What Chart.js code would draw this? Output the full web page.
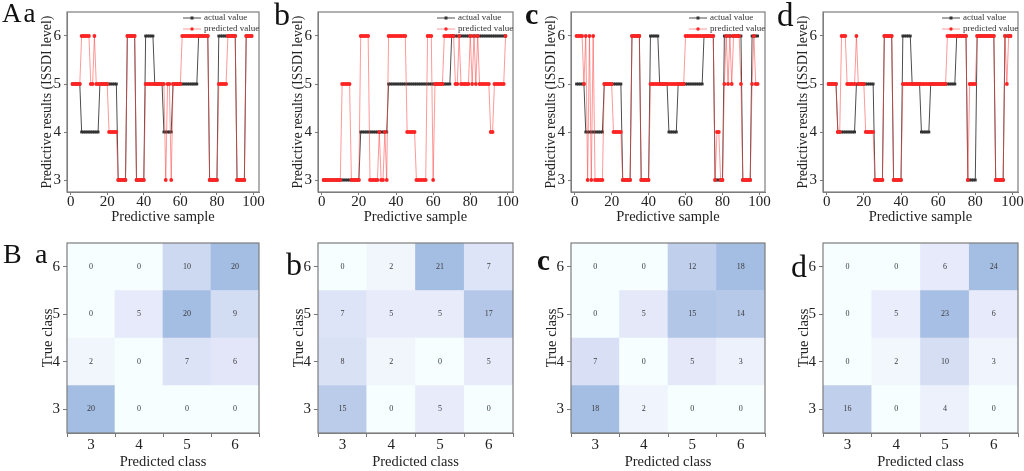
<!DOCTYPE html>
<html>
<head>
<meta charset="utf-8">
<script src="https://cdn.jsdelivr.net/npm/chart.js@4.4.1/dist/chart.umd.min.js"></script>
<style>
  body { margin: 0; background: #fff; }
  #fig { position: relative; width: 1024px; height: 471px; overflow: hidden; background: #fff; }
  #fig canvas { position: absolute; }
  .tag { position: absolute; font-family: "Liberation Serif", "Times New Roman", serif; color: #111; line-height: 1; white-space: nowrap; }
</style>
</head>
<body>
<div id="fig"></div>
<script>
const sampleTicks = [0, 20, 40, 60, 80, 100];
const levelTicks = [3, 4, 5, 6];
const classLabels = ["3", "4", "5", "6"];

// actual ISSDI level per sample (panels a, c, d share the same test set)
const actualACD = [
  5, 5, 5, 5, 5, 4, 4, 4, 4, 4,
  4, 4, 4, 4, 4, 5, 5, 5, 5, 5,
  5, 5, 5, 5, 5, 3, 3, 3, 3, 3,
  6, 6, 6, 6, 6, 3, 3, 3, 3, 3,
  6, 6, 6, 6, 6, 5, 5, 5, 5, 5,
  4, 4, 4, 4, 4, 5, 5, 5, 5, 5,
  5, 5, 5, 5, 5, 5, 5, 5, 5, 6,
  6, 6, 6, 6, 6, 3, 3, 3, 3, 3,
  6, 6, 6, 6, 6, 6, 6, 6, 6, 6,
  3, 3, 3, 3, 3, 6, 6, 6, 6
];
const actualB = [
  3, 3, 3, 3, 3, 3, 3, 3, 3, 3,
  3, 3, 3, 3, 3, 3, 3, 3, 3, 3,
  4, 4, 4, 4, 4, 4, 4, 4, 4, 4,
  4, 4, 4, 4, 4, 5, 5, 5, 5, 5,
  5, 5, 5, 5, 5, 5, 5, 5, 5, 5,
  5, 5, 5, 5, 5, 5, 5, 5, 5, 5,
  5, 5, 5, 5, 5, 5, 5, 5, 5, 6,
  6, 6, 6, 6, 6, 6, 6, 6, 6, 6,
  6, 6, 6, 6, 6, 6, 6, 6, 6, 6,
  6, 6, 6, 6, 6, 6, 6, 6, 6
];
const predA = [
  5, 5, 5, 5, 5, 6, 6, 6, 6, 6,
  5, 5, 6, 5, 5, 5, 5, 5, 5, 5,
  4, 4, 4, 4, 4, 3, 3, 3, 3, 3,
  6, 6, 6, 6, 6, 3, 3, 3, 3, 3,
  5, 5, 5, 5, 5, 5, 5, 5, 5, 5,
  5, 3, 5, 5, 3, 5, 5, 5, 5, 5,
  6, 6, 6, 6, 6, 6, 6, 6, 6, 6,
  6, 6, 6, 6, 6, 3, 3, 3, 3, 3,
  5, 5, 5, 5, 5, 6, 6, 6, 6, 6,
  3, 3, 3, 3, 3, 6, 6, 6, 6
];
const predB = [
  3, 3, 3, 3, 3, 3, 3, 3, 3, 3,
  5, 5, 5, 5, 5, 3, 3, 3, 3, 3,
  6, 6, 6, 6, 6, 3, 3, 3, 3, 3,
  4, 3, 3, 4, 3, 6, 6, 6, 6, 6,
  6, 6, 6, 6, 6, 4, 4, 4, 4, 4,
  3, 3, 3, 3, 3, 3, 6, 6, 6, 3,
  5, 5, 5, 5, 5, 6, 6, 6, 6, 6,
  6, 5, 5, 6, 5, 5, 5, 5, 5, 6,
  5, 6, 5, 6, 5, 5, 5, 5, 5, 5,
  4, 4, 5, 5, 5, 5, 5, 5, 6
];
const predC = [
  6, 6, 6, 6, 5, 6, 3, 6, 3, 6,
  3, 3, 3, 3, 3, 5, 5, 5, 5, 5,
  4, 4, 4, 4, 4, 3, 3, 3, 3, 3,
  6, 6, 6, 6, 6, 3, 3, 3, 3, 3,
  5, 5, 5, 5, 5, 5, 5, 5, 5, 5,
  5, 5, 5, 5, 5, 5, 5, 5, 5, 6,
  6, 6, 6, 6, 6, 6, 6, 6, 6, 6,
  6, 6, 6, 6, 6, 3, 4, 4, 3, 3,
  5, 6, 5, 6, 5, 6, 6, 6, 6, 5,
  3, 3, 3, 3, 3, 5, 6, 5, 5
];
const predD = [
  5, 5, 5, 5, 5, 4, 4, 6, 6, 6,
  5, 5, 5, 5, 5, 6, 5, 5, 5, 5,
  4, 4, 4, 4, 4, 3, 3, 3, 3, 3,
  6, 6, 6, 6, 6, 3, 3, 3, 3, 3,
  5, 5, 5, 5, 5, 5, 5, 5, 5, 5,
  5, 5, 5, 5, 5, 5, 5, 5, 5, 5,
  5, 5, 5, 5, 6, 6, 6, 6, 6, 6,
  6, 6, 6, 6, 6, 3, 5, 5, 5, 5,
  6, 6, 6, 6, 6, 6, 6, 6, 6, 6,
  3, 3, 3, 3, 3, 6, 5, 6, 6
];

// confusion matrices: rows = true class 3..6, cols = predicted class 3..6
const cmA = [[20, 0, 0, 0], [2, 0, 7, 6], [0, 5, 20, 9], [0, 0, 10, 20]];
const cmB = [[15, 0, 5, 0], [8, 2, 0, 5], [7, 5, 5, 17], [0, 2, 21, 7]];
const cmC = [[18, 2, 0, 0], [7, 0, 5, 3], [0, 5, 15, 14], [0, 0, 12, 18]];
const cmD = [[16, 0, 4, 0], [0, 2, 10, 3], [0, 5, 23, 6], [0, 0, 6, 24]];

const panels = [
  { actual: actualACD, pred: predA, cm: cmA },
  { actual: actualB, pred: predB, cm: cmB },
  { actual: actualACD, pred: predC, cm: cmC },
  { actual: actualACD, pred: predD, cm: cmD }
];

const plotLeft = [67, 318, 571, 823];
const plotRight = [259, 513, 765, 1018];
const serif = "'Liberation Serif', 'Times New Roman', serif";
const fig = document.getElementById("fig");

Chart.defaults.font.family = serif;
Chart.defaults.color = "#222";

const boxPlugin = {
  id: "box",
  afterDraw(chart) {
    const a = chart.chartArea, ctx = chart.ctx;
    ctx.save();
    ctx.strokeStyle = "#7d7d7d";
    ctx.lineWidth = 1.2;
    ctx.strokeRect(a.left, a.top, a.right - a.left, a.bottom - a.top);
    ctx.restore();
  }
};

// origin-style legend in the top right corner of the plot
const lineLegend = {
  id: "lineLegend",
  afterDraw(chart) {
    const a = chart.chartArea, ctx = chart.ctx;
    const x0 = a.right - 76;
    ctx.save();
    ctx.font = "9px " + serif;
    ctx.textBaseline = "middle";
    chart.data.datasets.forEach((ds, i) => {
      const y = a.top + 6 + i * 11;
      ctx.strokeStyle = ds.borderColor;
      ctx.lineWidth = 1;
      ctx.beginPath();
      ctx.moveTo(x0, y);
      ctx.lineTo(x0 + 18, y);
      ctx.stroke();
      ctx.fillStyle = ds.pointBackgroundColor;
      if (ds.pointStyle === "rect") ctx.fillRect(x0 + 7.5, y - 1.5, 3, 3);
      else { ctx.beginPath(); ctx.arc(x0 + 9, y, 1.7, 0, Math.PI * 2); ctx.fill(); }
      ctx.fillStyle = "#333";
      ctx.fillText(ds.label, x0 + 21, y);
    });
    ctx.restore();
  }
};

const cellText = {
  id: "cellText",
  afterDatasetsDraw(chart) {
    const ctx = chart.ctx;
    ctx.save();
    ctx.font = "8px " + serif;
    ctx.fillStyle = "#3a3a3a";
    ctx.textAlign = "center";
    ctx.textBaseline = "middle";
    chart.data.datasets.forEach((ds, r) => {
      chart.getDatasetMeta(r).data.forEach((bar, c) => {
        ctx.fillText(String(ds.values[c]), bar.x, (bar.y + bar.base) / 2);
      });
    });
    ctx.restore();
  }
};

function mix(c1, c2, t) {
  return c1.map((v, k) => Math.round(v + (c2[k] - v) * t));
}
const stops = [
  [0, [247, 254, 255]],
  [0.25, [231, 234, 250]],
  [0.5, [205, 216, 241]],
  [1, [164, 189, 227]]
];
function cellColor(v, max) {
  const t = v / max;
  for (let k = 1; k < stops.length; k++) {
    if (t <= stops[k][0]) {
      const s0 = stops[k - 1], s1 = stops[k];
      const c = mix(s0[1], s1[1], (t - s0[0]) / (s1[0] - s0[0]));
      return `rgb(${c[0]},${c[1]},${c[2]})`;
    }
  }
  return "rgb(164,189,227)";
}

function makeCanvas(left, top, w, h) {
  const cv = document.createElement("canvas");
  cv.width = w; cv.height = h;
  cv.style.left = left + "px"; cv.style.top = top + "px";
  cv.style.width = w + "px"; cv.style.height = h + "px";
  fig.appendChild(cv);
  return cv;
}

const tickFont = { size: 15, family: serif };
const titleFont = { size: 14.5, family: serif };
const yTitleFont = { size: 13.8, family: serif };

function lineChart(i) {
  const p = panels[i];
  const w = plotRight[i] - plotLeft[i] + 70;
  const cv = makeCanvas(plotLeft[i] - 60, 0, w, 230);
  new Chart(cv, {
    type: "line",
    data: {
      datasets: [
        {
          label: "actual value",
          data: p.actual.map((v, k) => ({ x: k + 1, y: v })),
          borderColor: "#4d4d4d",
          borderWidth: 1,
          pointStyle: "rect",
          pointRadius: 2,
          pointBackgroundColor: "#333",
          pointBorderWidth: 0,
          order: 2
        },
        {
          label: "predicted value",
          data: p.pred.map((v, k) => ({ x: k + 1, y: v })),
          borderColor: "rgba(255,70,70,0.55)",
          borderWidth: 1,
          pointStyle: "circle",
          pointRadius: 1.9,
          pointBackgroundColor: "#ff2424",
          pointBorderWidth: 0,
          order: 1
        }
      ]
    },
    options: {
      responsive: false,
      animation: false,
      layout: { padding: { left: 28, top: 2, right: 10, bottom: 0 } },
      plugins: { legend: { display: false }, tooltip: { enabled: false } },
      scales: {
        x: {
          type: "linear",
          min: -2,
          max: 103,
          afterBuildTicks: (s) => { s.ticks = sampleTicks.map((v) => ({ value: v })); },
          afterFit: (s) => { s.height = 38; },
          grid: { drawOnChartArea: false, tickLength: 3, color: "#777" },
          border: { color: "#7d7d7d" },
          ticks: { font: tickFont, color: "#222", padding: -2, maxRotation: 0 },
          title: { display: true, text: "Predictive sample", font: titleFont, color: "#222" }
        },
        y: {
          min: 2.75,
          max: 6.5,
          afterBuildTicks: (s) => { s.ticks = levelTicks.map((v) => ({ value: v })); },
          afterFit: (s) => { s.width = 32; },
          grid: { drawOnChartArea: false, tickLength: 3, color: "#777" },
          border: { color: "#7d7d7d" },
          ticks: { font: tickFont, color: "#222", padding: 3 },
          title: { display: true, text: "Predictive results (ISSDI level)", font: yTitleFont, color: "#222" }
        }
      }
    },
    plugins: [boxPlugin, lineLegend]
  });
}

function matrixChart(i) {
  const p = panels[i];
  const max = Math.max(...p.cm.flat());
  const w = plotRight[i] - plotLeft[i] + 70;
  const cv = makeCanvas(plotLeft[i] - 60, 230, w, 241);
  new Chart(cv, {
    type: "bar",
    data: {
      labels: classLabels,
      datasets: levelTicks.map((t, r) => ({
        data: classLabels.map(() => [t - 0.5, t + 0.5]),
        values: p.cm[r],
        backgroundColor: p.cm[r].map((v) => cellColor(v, max)),
        borderWidth: 0,
        barPercentage: 1,
        categoryPercentage: 1
      }))
    },
    options: {
      responsive: false,
      animation: false,
      layout: { padding: { left: 28, top: 13, right: 10, bottom: 0 } },
      plugins: { legend: { display: false }, tooltip: { enabled: false } },
      scales: {
        x: {
          stacked: true,
          afterFit: (s) => { s.height = 38; },
          grid: { drawOnChartArea: false, tickLength: 4, color: "#777" },
          border: { color: "#7d7d7d" },
          ticks: { font: tickFont, color: "#222", padding: -1 },
          title: { display: true, text: "Predicted class", font: titleFont, color: "#222", padding: { top: 5, bottom: 0 } }
        },
        y: {
          min: 2.5,
          max: 6.5,
          afterBuildTicks: (s) => { s.ticks = levelTicks.map((v) => ({ value: v })); },
          afterFit: (s) => { s.width = 32; },
          grid: { drawOnChartArea: false, tickLength: 4, color: "#777" },
          border: { color: "#7d7d7d" },
          ticks: { font: tickFont, color: "#222", padding: 3 },
          title: { display: true, text: "True class", font: titleFont, color: "#222" }
        }
      }
    },
    plugins: [boxPlugin, cellText]
  });
}

for (let i = 0; i < panels.length; i++) {
  lineChart(i);
  matrixChart(i);
}

// panel letters
const tags = [
  ["Aa", 2, 0, 27, false],
  ["b", 274, -2, 32, false],
  ["c", 525, -1, 30, true],
  ["d", 777, -1, 33, false],
  ["B", 3, 240, 28, false],
  ["a", 35, 240, 28, false],
  ["b", 286, 248, 32, false],
  ["c", 537, 246, 29, true],
  ["d", 791, 250, 32, false]
];
tags.forEach(([txt, x, y, fs, bold]) => {
  const d = document.createElement("div");
  d.className = "tag";
  d.textContent = txt;
  d.style.left = x + "px";
  d.style.top = y + "px";
  d.style.fontSize = fs + "px";
  if (bold) d.style.fontWeight = "bold";
  if (txt === "Aa") d.style.letterSpacing = "2px";
  fig.appendChild(d);
});
</script>
</body>
</html>
